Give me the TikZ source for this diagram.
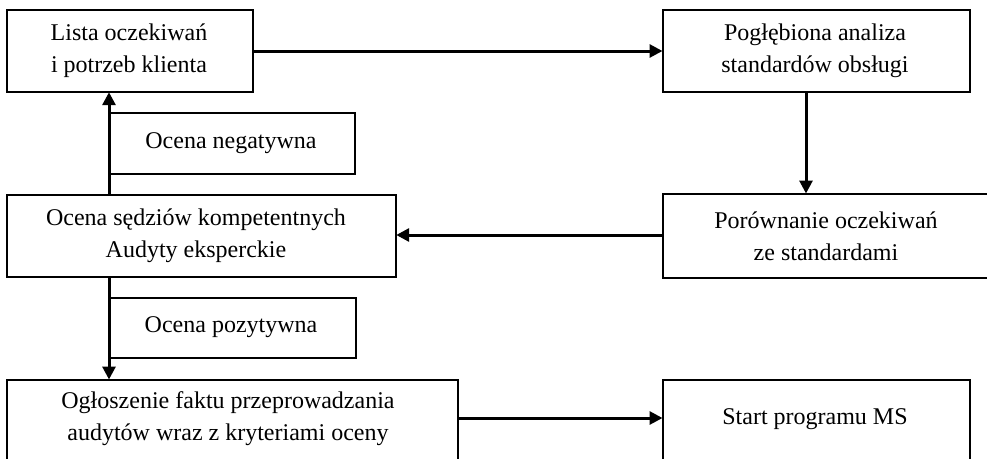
\documentclass[tikz,border=0pt]{standalone}
\usepackage{fontspec}
\setmainfont{Liberation Serif}
\usetikzlibrary{arrows.meta}
\begin{document}
\begin{tikzpicture}[x=1pt,y=1pt,
  box/.style={draw, line width=1.7pt, inner sep=0pt, anchor=north west},
  txt/.style={align=center, font=\fontsize{24}{32}\selectfont, inner sep=0pt},
  arr/.style={line width=3pt, -{Triangle[length=13pt,width=13pt]}, shorten >=-0.5pt}]
\useasboundingbox (0,0) rectangle (987,-458);
% boxes
\node[box, minimum width=246pt, minimum height=82pt] (lista) at (6,-9) {};
\node[box, minimum width=307pt, minimum height=82pt] (pogl) at (662,-9) {};
\node[box, minimum width=328pt, minimum height=84pt] (poro) at (662,-193) {};
\node[box, minimum width=389pt, minimum height=82pt] (ocena) at (6,-194) {};
\node[box, minimum width=245pt, minimum height=61pt] (neg) at (109,-112) {};
\node[box, minimum width=246pt, minimum height=60pt] (poz) at (109,-297) {};
\node[box, minimum width=451pt, minimum height=110pt] (oglo) at (6,-379) {};
\node[box, minimum width=307pt, minimum height=110pt] (start) at (662,-379) {};
% texts
\node[txt] (listat) at (129,-51) {Lista oczekiwań\\i potrzeb klienta};
\node[txt] (poglt) at (815,-51) {Pogłębiona analiza\\standardów obsługi};
\node[txt] (porot) at (826,-236) {Porównanie oczekiwań\\ze standardami};
\node[txt] (ocenat) at (196,-236) {Ocena sędziów kompetentnych\\Audyty eksperckie};
\node[txt] (negt) at (231,-143) {Ocena negatywna};
\node[txt] (pozt) at (231,-327) {Ocena pozytywna};
\node[txt] (oglot) at (228,-419) {Ogłoszenie faktu przeprowadzania\\audytów wraz z kryteriami oceny};
\node[txt] (startt) at (815,-419) {Start programu MS};
% connectors
\coordinate (c1) at (0,-51);
\coordinate (c2) at (806,0);
\coordinate (c3) at (0,-235);
\coordinate (c4) at (109,0);
\coordinate (c5) at (0,-418);
\draw[arr] (lista.east |- c1) -- (pogl.west |- c1);
\draw[arr] (pogl.south -| c2) -- (poro.north -| c2);
\draw[arr] (poro.west |- c3) -- (ocena.east |- c3);
\draw[arr] (ocena.north -| c4) -- (lista.south -| c4);
\draw[arr] (ocena.south -| c4) -- (oglo.north -| c4);
\draw[arr] (oglo.east |- c5) -- (start.west |- c5);
\end{tikzpicture}
\end{document}
